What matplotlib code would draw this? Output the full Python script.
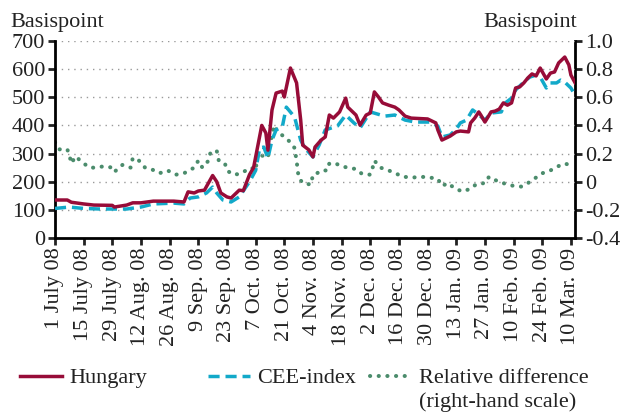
import numpy as np
import matplotlib
matplotlib.use("Agg")
import matplotlib.pyplot as plt

plt.rcParams['font.family'] = ['Liberation Serif', 'DejaVu Serif']

start = np.datetime64('2008-07-01')

# Hungary (basis points), days since 1 July 2008
hu_days = [0, 6, 8, 14, 19, 28, 29, 35, 38, 42, 48, 58, 63, 65, 68, 70, 73, 77, 79, 81,
           84, 86, 90, 92, 95, 97, 101, 103, 104, 106, 108, 111, 112, 115, 118, 120, 121,
           124, 126, 127, 130, 132, 134, 136, 139, 142, 143, 147, 148, 149, 152, 154, 156,
           158, 160, 163, 166, 168, 171, 174, 182, 186, 187, 189, 191, 193, 196, 198, 202,
           203, 205, 207, 208, 210, 213, 215, 217, 219, 221, 223, 225, 227, 229, 231, 233,
           235, 237, 240, 242, 244, 246, 249, 251, 252, 254]
hu_vals = [135, 135, 127, 121, 117, 116, 110, 117, 125, 125, 131, 131, 128, 164, 160, 167, 170, 222, 200, 160,
           146, 142, 170, 168, 225, 250, 400, 373, 312, 455, 515, 522, 501, 604, 551, 420, 330,
           313, 288, 323, 348, 359, 437, 426, 448, 497, 465, 437, 419, 401, 437, 444, 519,
           501, 480, 472, 465, 455, 433, 426, 423, 409, 384, 348, 355, 362, 377, 380, 377,
           409, 426, 448, 437, 412, 448, 451, 458, 480, 472, 480, 533, 537, 551, 569, 583,
           576, 604, 565, 586, 590, 622, 643, 615, 579, 552]

# CEE-index (basis points)
cee_days = [0, 7, 14, 22, 35, 42, 48, 58, 63, 66, 70, 74, 77, 79, 82, 86, 90, 95, 98, 100,
            102, 104, 106, 108, 111, 113, 117, 120, 122, 126, 129, 132, 135, 138, 142, 146,
            149, 154, 161, 166, 171, 176, 183, 187, 189, 193, 196, 198, 201, 204, 206, 210,
            213, 218, 220, 223, 225, 230, 232, 235, 237, 240, 242, 245, 247, 249, 252, 254]
cee_vals = [105, 110, 105, 103, 103, 110, 121, 124, 121, 142, 146, 160, 181, 160, 135, 128, 146, 200, 240, 320,
            323, 284, 348, 384, 394, 465, 430, 348, 320, 288, 330, 384, 391, 398, 437, 409,
            391, 448, 433, 437, 419, 412, 412, 398, 359, 366, 387, 409, 419, 455, 444, 419,
            444, 448, 480, 497, 526, 561, 572, 579, 572, 533, 551, 551, 561, 554, 533, 508]

# Relative difference (right-hand scale)
rel_days = [0, 2, 6, 7, 8, 10, 14, 17, 20, 24, 28, 29, 33, 37, 38, 41, 44, 47, 51, 55,
            59, 63, 68, 70, 72, 75, 76, 79, 80, 83, 84, 87, 90, 96, 98, 99, 102, 104, 105,
            107, 109, 112, 115, 117, 118, 119, 121, 125, 126, 128, 130, 133, 134, 137, 140,
            143, 147, 150, 154, 155, 156, 159, 163, 167, 170, 175, 179, 183, 187, 189, 192,
            195, 199, 203, 206, 210, 212, 216, 220, 224, 228, 231, 235, 238, 242, 245, 249, 253]
rel_vals = [0.28, 0.23, 0.23, 0.19, 0.13, 0.18, 0.13, 0.10, 0.10, 0.11, 0.10, 0.07, 0.12, 0.10, 0.17, 0.15, 0.10, 0.09, 0.06, 0.08,
            0.05, 0.06, 0.10, 0.15, 0.10, 0.15, 0.21, 0.22, 0.15, 0.13, 0.08, 0.05, 0.055, 0.10, 0.08, 0.20, 0.18, 0.17, 0.26,
            0.40, 0.35, 0.32, 0.28, 0.24, 0.15, 0.03, -0.01, -0.02, 0.05, 0.06, 0.08, 0.08, 0.13, 0.13, 0.11,
            0.10, 0.09, 0.055, 0.05, 0.09, 0.15, 0.10, 0.08, 0.055, 0.035, 0.03, 0.035, 0.03, 0.02, -0.03, -0.01,
            -0.045, -0.07, -0.05, -0.015, -0.01, 0.035, 0.005, -0.015, -0.03, -0.035, -0.01, 0.03, 0.06, 0.08, 0.105, 0.13, 0.11]

tick_labels = ['1 July 08', '15 July 08', '29 July 08', '12 Aug. 08', '26 Aug. 08', '9 Sep. 08',
               '23 Sep. 08', '7 Oct. 08', '21 Oct. 08', '4 Nov. 08', '18 Nov. 08', '2 Dec. 08',
               '16 Dec. 08', '30 Dec. 08', '13 Jan. 09', '27 Jan. 09', '10 Feb. 09', '24 Feb. 09',
               '10 Mar. 09']
left_ticks = [0, 100, 200, 300, 400, 500, 600, 700]
right_ticks = [-0.4, -0.2, 0, 0.2, 0.4, 0.6, 0.8, 1.0]
right_labels = ['-0.4', '-0.2', '0', '0.2', '0.4', '0.6', '0.8', '1.0']
legend_labels = ['Hungary', 'CEE-index', 'Relative difference']

RED = '#970c38'
BLUE = '#12a9c9'
GREEN = '#4b8c6c'
TXT = '#222222'
FS = 16

def to_dates(days):
    return start + np.array(days, dtype='timedelta64[D]')

fig = plt.figure(figsize=(6.26, 4.15), dpi=100)
ax = fig.add_axes([55/626, 1-238/415, 520/626, 197/415])
ax2 = ax.twinx()

ax.set_ylim(0, 700)
ax2.set_ylim(-0.4, 1.0)
ax.set_xlim(start, start + np.timedelta64(254, 'D'))

for y in left_ticks[1:]:
    ax.axhline(y, color='#9a9a9a', lw=1.0, linestyle=(0, (1, 3.5)), zorder=0)

l1, = ax.plot(to_dates(hu_days), hu_vals, color=RED, lw=2.5, solid_joinstyle='round', zorder=4)
l2, = ax.plot(to_dates(cee_days), cee_vals, color=BLUE, lw=2.5, linestyle=(0, (3.2, 1.7)), zorder=3)
l3, = ax2.plot(to_dates(rel_days), rel_vals, color=GREEN, lw=2.9, linestyle=(0, (0.05, 2.1)),
               dash_capstyle='round', zorder=2)
ax.set_zorder(ax2.get_zorder() + 1)
ax.patch.set_visible(False)

xt = [start + np.timedelta64(14*k, 'D') for k in range(len(tick_labels))]
ax.set_xticks(xt)
ax.set_xticklabels(tick_labels, rotation=90, fontsize=FS)
ax.set_yticks(left_ticks)
ax.set_yticklabels([str(v) for v in left_ticks], fontsize=FS)
ax2.set_yticks(right_ticks)
ax2.set_yticklabels(right_labels, fontsize=FS)

for a in (ax, ax2):
    for s in a.spines.values():
        s.set_linewidth(2.0)
    a.spines['top'].set_visible(False)
ax.spines['right'].set_visible(False)
ax2.spines['left'].set_visible(False)
ax2.spines['bottom'].set_visible(False)

ax.tick_params(axis='both', direction='out', length=5, width=2, pad=2, colors=TXT, labelcolor=TXT)
ax2.tick_params(axis='y', direction='out', length=5, width=2, pad=2, colors=TXT, labelcolor=TXT)

fig.text(10/626, 1-22/415, 'Basispoint', fontsize=FS, ha='left', va='center', color=TXT)
fig.text(577/626, 1-22/415, 'Basispoint', fontsize=FS, ha='right', va='center', color=TXT)

# legend entries placed individually
leg_x = [20/626, 208/626, 370/626]
legs = []
for h, lab, x in zip([l1, l2, l3], legend_labels, leg_x):
    lg = fig.legend([h], [lab], loc='center left', bbox_to_anchor=(x, 1-378/415), frameon=False,
                    fontsize=FS, handlelength=1.9, handletextpad=0.3, borderaxespad=0, borderpad=0)
    for t in lg.get_texts():
        t.set_color(TXT)
    legs.append(lg)
fig.canvas.draw()
bb = legs[2].get_texts()[0].get_window_extent()
fig.text(bb.x0/fig.bbox.width, (bb.y0 - 4)/fig.bbox.height, '(right-hand scale)',
         fontsize=FS, ha='left', va='top', color=TXT)

fig.savefig('out.png', dpi=100)
